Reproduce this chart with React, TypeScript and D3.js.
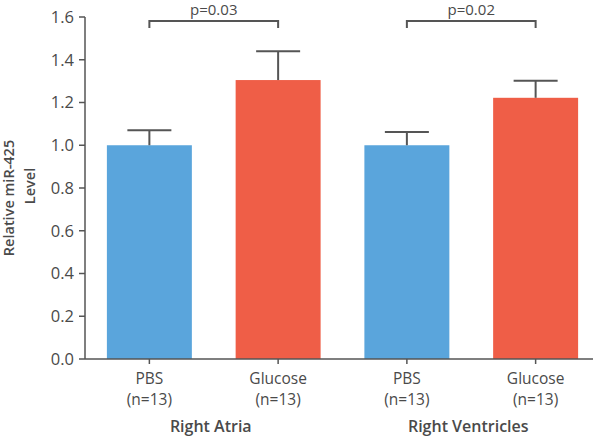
import React from 'react';
import * as d3 from 'd3';

const groups = ['PBS', 'Glucose', 'PBS', 'Glucose'];
const counts = ['(n=13)', '(n=13)', '(n=13)', '(n=13)'];
const means = [1.0, 1.305, 1.0, 1.222];
const errors = [0.07, 0.135, 0.062, 0.08];
const colors = ['#5aa5dc', '#ef5e47', '#5aa5dc', '#ef5e47'];
const tissues = ['Right Atria', 'Right Ventricles'];
const pValues = ['p=0.03', 'p=0.02'];
const yTicks = [0, 0.2, 0.4, 0.6, 0.8, 1.0, 1.2, 1.4, 1.6];

const width = 600;
const height = 436;
const font = "'Open Sans', 'Noto Sans', sans-serif";
const ink = '#4a4a4a';

const App = () => {
  const keys = groups.map((g, i) => `${i}`);

  const x = d3
    .scaleBand()
    .domain(keys)
    .range([85, 600])
    .paddingInner(0.34)
    .paddingOuter(0.17);

  const y = d3.scaleLinear().domain([0, 1.6]).range([359, 17]);

  const bw = x.bandwidth();
  const cx = i => x(keys[i]) + bw / 2;

  return (
    <svg
      width={width}
      height={height}
      style={{ position: 'absolute', left: 0, top: 0, background: '#fff' }}
      fontFamily={font}
    >
      {/* bars */}
      {means.map((m, i) => (
        <rect
          key={'bar' + i}
          x={x(keys[i])}
          y={y(m)}
          width={bw}
          height={y(0) - y(m)}
          fill={colors[i]}
        />
      ))}

      {/* error bars */}
      {means.map((m, i) => (
        <g key={'err' + i} stroke="#555" strokeWidth={2}>
          <line x1={cx(i)} x2={cx(i)} y1={y(m)} y2={y(m + errors[i])} />
          <line x1={cx(i) - 22} x2={cx(i) + 22} y1={y(m + errors[i])} y2={y(m + errors[i])} />
        </g>
      ))}

      {/* y axis */}
      <line x1={85} x2={85} y1={y(1.6)} y2={y(0)} stroke="#555" strokeWidth={1.5} />
      {yTicks.map(t => (
        <g key={'yt' + t}>
          <line x1={79} x2={85} y1={y(t)} y2={y(t)} stroke="#555" strokeWidth={1.5} />
          <text x={74} y={y(t)} dy="0.36em" textAnchor="end" fontSize={16.5} fill={ink}>
            {t.toFixed(1)}
          </text>
        </g>
      ))}

      {/* x axis */}
      <line x1={85} x2={593} y1={y(0)} y2={y(0)} stroke="#555" strokeWidth={1.5} />
      {groups.map((g, i) => (
        <g key={'xt' + i}>
          <line x1={cx(i)} x2={cx(i)} y1={y(0)} y2={y(0) + 5} stroke="#555" strokeWidth={1.5} />
          <text x={cx(i)} y={384} textAnchor="middle" fontSize={15.5} fill={ink}>
            {g}
          </text>
          <text x={cx(i)} y={405} textAnchor="middle" fontSize={15.5} fill={ink}>
            {counts[i]}
          </text>
        </g>
      ))}

      {tissues.map((t, k) => (
        <text
          key={'tis' + k}
          x={(cx(2 * k) + cx(2 * k + 1)) / 2 - 3}
          y={432}
          textAnchor="middle"
          fontSize={16}
          fontWeight={600}
          fill={ink}
        >
          {t}
        </text>
      ))}

      {/* significance brackets */}
      {pValues.map((p, k) => {
        const a = cx(2 * k);
        const b = cx(2 * k + 1);
        return (
          <g key={'br' + k}>
            <path
              d={`M${a},28V21H${b}V28`}
              fill="none"
              stroke="#555"
              strokeWidth={2}
            />
            <text x={(a + b) / 2} y={15} textAnchor="middle" fontSize={15} fill={ink}>
              {p}
            </text>
          </g>
        );
      })}

      {/* y label */}
      <text
        transform="translate(14,198) rotate(-90)"
        textAnchor="middle"
        fontSize={14.5}
        fontWeight={600}
        fill={ink}
      >
        Relative miR-425
      </text>
      <text
        transform="translate(35,186) rotate(-90)"
        textAnchor="middle"
        fontSize={14.5}
        fontWeight={600}
        fill={ink}
      >
        Level
      </text>
    </svg>
  );
};

export default App;
